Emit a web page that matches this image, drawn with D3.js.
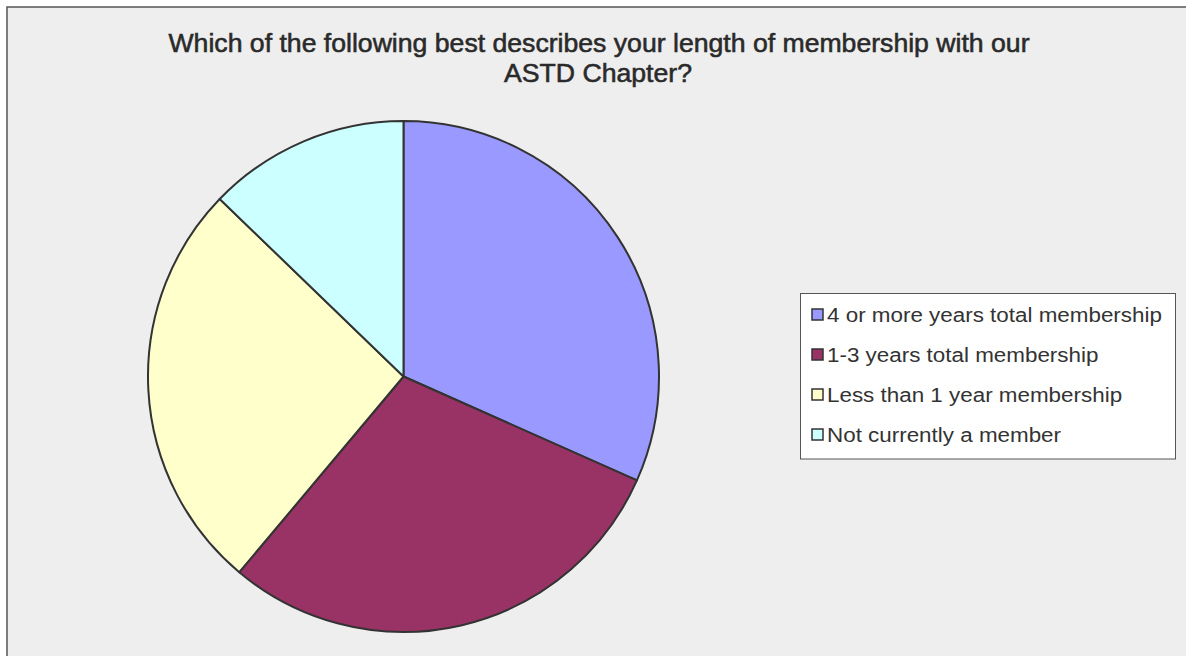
<!DOCTYPE html>
<html>
<head>
<meta charset="utf-8">
<script src="https://cdn.jsdelivr.net/npm/d3@7"></script>
<style>
  html, body { margin: 0; padding: 0; background: #ffffff; }
  svg { display: block; }
</style>
</head>
<body>
<svg id="chart" width="1186" height="656"></svg>
<script>
// Survey responses: length of chapter membership
const categories = [
  "4 or more years total membership",
  "1-3 years total membership",
  "Less than 1 year membership",
  "Not currently a member"
];
const counts = [57, 53, 47, 23];
const colors = ["#9999ff", "#993366", "#ffffcc", "#ccffff"];
const titleLines = [
  "Which of the following best describes your length of membership with our",
  "ASTD Chapter?"
];

const W = 1186, H = 656;
const svg = d3.select("#chart");

// chart area background and frame
svg.append("rect")
  .attr("x", 7).attr("y", 7).attr("width", W).attr("height", H)
  .attr("fill", "#eeeeee");
svg.append("path")
  .attr("d", `M7,${H} L7,7 L${W},7`)
  .attr("fill", "none").attr("stroke", "#555555").attr("stroke-width", 1.5);

// title (tall, condensed, lightly emboldened)
const title = svg.append("g")
  .attr("font-family", "Liberation Sans, Arial, sans-serif")
  .attr("font-size", 25.5).attr("fill", "#2a2a2a")
  .attr("stroke", "#2a2a2a").attr("stroke-width", 0.55)
  .attr("text-anchor", "middle");
title.append("text").attr("x", 599).attr("y", 52).text(titleLines[0])
  .attr("textLength", 861).attr("lengthAdjust", "spacingAndGlyphs");
title.append("text").attr("x", 598).attr("y", 82).text(titleLines[1])
  .attr("textLength", 188).attr("lengthAdjust", "spacingAndGlyphs");

// pie
const cx = 403.5, cy = 376.5, r = 255.5;
const pie = d3.pie().sort(null).value(d => d)(counts);
const arc = d3.arc().innerRadius(0).outerRadius(r);
const color = d3.scaleOrdinal().domain(categories).range(colors);

svg.append("g").attr("transform", `translate(${cx},${cy})`)
  .selectAll("path").data(pie).join("path")
  .attr("d", arc)
  .attr("fill", (d, i) => color(categories[i]))
  .attr("stroke", "#333333").attr("stroke-width", 2).attr("stroke-linejoin", "round");

// legend
const lg = svg.append("g");
lg.append("rect")
  .attr("x", 800.5).attr("y", 293.5).attr("width", 375).attr("height", 165.5)
  .attr("fill", "#ffffff").attr("stroke", "#555555").attr("stroke-width", 1);

const rowY = d3.scalePoint().domain(categories).range([315, 435]);
const items = lg.selectAll("g.item").data(categories).join("g")
  .attr("class", "item")
  .attr("transform", d => `translate(0,${rowY(d)})`);
items.append("rect")
  .attr("x", 812).attr("y", -6).attr("width", 11).attr("height", 11)
  .attr("fill", d => color(d)).attr("stroke", "#333333").attr("stroke-width", 1.5);
items.append("text")
  .attr("x", 827).attr("y", 7)
  .attr("font-family", "Liberation Sans, Arial, sans-serif")
  .attr("font-size", 20).attr("fill", "#333333")
  .text(d => d)
  .each(function () {
    // legend face runs a little wider than the default sans
    const w = this.getComputedTextLength();
    d3.select(this).attr("textLength", w * 1.12).attr("lengthAdjust", "spacingAndGlyphs");
  });
</script>
</body>
</html>
